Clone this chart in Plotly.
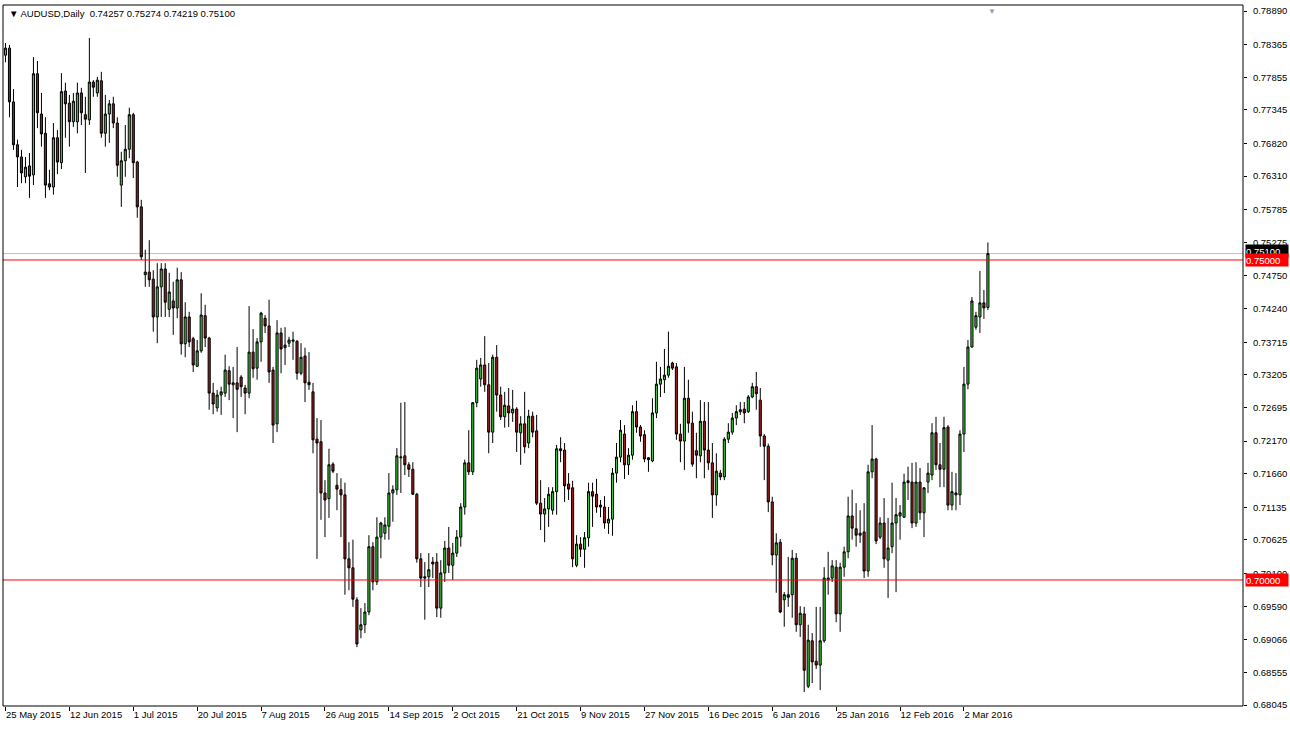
import plotly.graph_objects as go

# ---------------- data (AUDUSD daily candles) ----------------
opens = [
    0.7820, 0.7831, 0.7747, 0.7680, 0.7661, 0.7630, 0.7647, 0.7633, 0.7791, 0.7728,
    0.7698, 0.7619, 0.7614, 0.7691, 0.7652, 0.7764, 0.7745, 0.7716, 0.7716, 0.7761,
    0.7727, 0.7719, 0.7778, 0.7761, 0.7780, 0.7698, 0.7728, 0.7744, 0.7714, 0.7617,
    0.7655, 0.7673, 0.7727, 0.7653, 0.7583, 0.7477, 0.7481, 0.7470, 0.7411, 0.7458,
    0.7486, 0.7423, 0.7436, 0.7425, 0.7469, 0.7369, 0.7411, 0.7377, 0.7334, 0.7358,
    0.7413, 0.7378, 0.7292, 0.7269, 0.7289, 0.7292, 0.7327, 0.7305, 0.7308, 0.7317,
    0.7300, 0.7292, 0.7356, 0.7331, 0.7372, 0.7409, 0.7397, 0.7328, 0.7244, 0.7386,
    0.7363, 0.7370, 0.7373, 0.7373, 0.7323, 0.7350, 0.7309, 0.7294, 0.7220, 0.7216,
    0.7136, 0.7127, 0.7181, 0.7148, 0.7141, 0.7133, 0.7033, 0.7019, 0.6969, 0.6922,
    0.6930, 0.6950, 0.7052, 0.6997, 0.7067, 0.7073, 0.7084, 0.7136, 0.7141, 0.7191,
    0.7194, 0.7180, 0.7173, 0.7134, 0.7033, 0.7005, 0.7005, 0.7028, 0.7028, 0.6956,
    0.7011, 0.7050, 0.7023, 0.7042, 0.7067, 0.7114, 0.7183, 0.7169, 0.7277, 0.7314,
    0.7336, 0.7305, 0.7231, 0.7348, 0.7289, 0.7255, 0.7272, 0.7261, 0.7267, 0.7230,
    0.7244, 0.7214, 0.7256, 0.7233, 0.7120, 0.7103, 0.7111, 0.7109, 0.7138, 0.7205,
    0.7203, 0.7150, 0.7144, 0.7023, 0.7056, 0.7048, 0.7066, 0.7138, 0.7134, 0.7117,
    0.7114, 0.7089, 0.7095, 0.7167, 0.7192, 0.7228, 0.7180, 0.7195, 0.7263, 0.7239,
    0.7227, 0.7191, 0.7186, 0.7261, 0.7306, 0.7313, 0.7320, 0.7339, 0.7333, 0.7228,
    0.7217, 0.7284, 0.7245, 0.7202, 0.7194, 0.7248, 0.7203, 0.7183, 0.7133, 0.7167,
    0.7161, 0.7220, 0.7231, 0.7253, 0.7263, 0.7267, 0.7263, 0.7286, 0.7302, 0.7281,
    0.7225, 0.7209, 0.7122, 0.7039, 0.7059, 0.6969, 0.6977, 0.6977, 0.7034, 0.6930,
    0.6947, 0.6834, 0.6905, 0.6873, 0.6867, 0.6905, 0.7000, 0.7003, 0.7020, 0.6947,
    0.7020, 0.7044, 0.7100, 0.7080, 0.7070, 0.7075, 0.7014, 0.7169, 0.7189, 0.7067,
    0.7089, 0.7031, 0.7052, 0.7089, 0.7100, 0.7098, 0.7155, 0.7153, 0.7089, 0.7153,
    0.7105, 0.7153, 0.7164, 0.7230, 0.7180, 0.7173, 0.7239, 0.7117, 0.7136, 0.7133,
    0.7228, 0.7306, 0.7364, 0.7395, 0.7411, 0.7433, 0.74257,
]
highs = [
    0.7839, 0.7836, 0.7767, 0.7688, 0.7672, 0.7661, 0.7667, 0.7817, 0.7811, 0.7761,
    0.7723, 0.7641, 0.7714, 0.7703, 0.7792, 0.7777, 0.7758, 0.7761, 0.7777, 0.7769,
    0.7755, 0.7847, 0.7781, 0.7786, 0.7794, 0.7758, 0.7750, 0.7755, 0.7723, 0.7669,
    0.7711, 0.7738, 0.7730, 0.7655, 0.7594, 0.7516, 0.7531, 0.7484, 0.7495, 0.7495,
    0.7495, 0.7480, 0.7466, 0.7488, 0.7481, 0.7434, 0.7419, 0.7380, 0.7375, 0.7448,
    0.7430, 0.7380, 0.7308, 0.7297, 0.7302, 0.7352, 0.7334, 0.7333, 0.7364, 0.7320,
    0.7305, 0.7428, 0.7392, 0.7378, 0.7419, 0.7414, 0.7438, 0.7333, 0.7406, 0.7394,
    0.7395, 0.7380, 0.7388, 0.7375, 0.7370, 0.7363, 0.7356, 0.7308, 0.7253, 0.7250,
    0.7156, 0.7205, 0.7184, 0.7167, 0.7159, 0.7152, 0.7059, 0.7063, 0.6973, 0.6956,
    0.6964, 0.7070, 0.7059, 0.7098, 0.7091, 0.7098, 0.7167, 0.7148, 0.7206, 0.7277,
    0.7278, 0.7184, 0.7184, 0.7136, 0.7042, 0.7028, 0.7042, 0.7036, 0.7042, 0.7031,
    0.7061, 0.7083, 0.7058, 0.7078, 0.7120, 0.7188, 0.7234, 0.7278, 0.7344, 0.7347,
    0.7381, 0.7339, 0.7352, 0.7367, 0.7302, 0.7294, 0.7300, 0.7297, 0.7270, 0.7256,
    0.7294, 0.7266, 0.7263, 0.7258, 0.7156, 0.7128, 0.7145, 0.7145, 0.7211, 0.7223,
    0.7214, 0.7167, 0.7155, 0.7070, 0.7067, 0.7075, 0.7152, 0.7152, 0.7158, 0.7125,
    0.7131, 0.7114, 0.7175, 0.7214, 0.7250, 0.7242, 0.7206, 0.7273, 0.7280, 0.7242,
    0.7234, 0.7192, 0.7284, 0.7341, 0.7333, 0.7361, 0.7388, 0.7341, 0.7339, 0.7244,
    0.7333, 0.7313, 0.7263, 0.7230, 0.7281, 0.7278, 0.7278, 0.7214, 0.7198, 0.7172,
    0.7223, 0.7245, 0.7261, 0.7273, 0.7278, 0.7278, 0.7289, 0.7308, 0.7325, 0.7300,
    0.7228, 0.7213, 0.7130, 0.7073, 0.7064, 0.6981, 0.7036, 0.7047, 0.7042, 0.6959,
    0.6958, 0.6930, 0.6917, 0.6958, 0.6958, 0.7020, 0.7044, 0.7031, 0.7031, 0.7027,
    0.7052, 0.7130, 0.7141, 0.7120, 0.7109, 0.7120, 0.7180, 0.7242, 0.7191, 0.7098,
    0.7128, 0.7097, 0.7152, 0.7128, 0.7117, 0.7166, 0.7177, 0.7183, 0.7184, 0.7175,
    0.7145, 0.7183, 0.7245, 0.7255, 0.7214, 0.7255, 0.7242, 0.7169, 0.7167, 0.7234,
    0.7333, 0.7375, 0.7442, 0.7419, 0.7483, 0.7453, 0.75274,
]
lows = [
    0.7809, 0.7723, 0.7672, 0.7614, 0.7620, 0.7620, 0.7597, 0.7617, 0.7706, 0.7677,
    0.7597, 0.7609, 0.7602, 0.7634, 0.7642, 0.7691, 0.7677, 0.7708, 0.7698, 0.7711,
    0.7636, 0.7711, 0.7755, 0.7755, 0.7691, 0.7677, 0.7683, 0.7706, 0.7630, 0.7583,
    0.7630, 0.7659, 0.7628, 0.7566, 0.7500, 0.7458, 0.7458, 0.7388, 0.7370, 0.7411,
    0.7411, 0.7411, 0.7383, 0.7409, 0.7352, 0.7348, 0.7364, 0.7325, 0.7333, 0.7355,
    0.7364, 0.7266, 0.7259, 0.7263, 0.7258, 0.7286, 0.7281, 0.7253, 0.7231, 0.7286,
    0.7259, 0.7284, 0.7316, 0.7313, 0.7341, 0.7386, 0.7308, 0.7214, 0.7231, 0.7323,
    0.7336, 0.7364, 0.7344, 0.7313, 0.7320, 0.7278, 0.7297, 0.7198, 0.7033, 0.7094,
    0.7067, 0.7097, 0.7167, 0.7109, 0.7067, 0.6977, 0.6984, 0.6958, 0.6895, 0.6909,
    0.6917, 0.6945, 0.6984, 0.6992, 0.7034, 0.7063, 0.7063, 0.7091, 0.7133, 0.7136,
    0.7164, 0.7161, 0.7133, 0.7027, 0.6989, 0.6938, 0.6989, 0.7003, 0.6942, 0.6941,
    0.6997, 0.7011, 0.7000, 0.7036, 0.7052, 0.7102, 0.7164, 0.7164, 0.7270, 0.7302,
    0.7294, 0.7198, 0.7214, 0.7263, 0.7250, 0.7238, 0.7239, 0.7247, 0.7200, 0.7180,
    0.7198, 0.7206, 0.7223, 0.7117, 0.7078, 0.7059, 0.7083, 0.7102, 0.7102, 0.7184,
    0.7122, 0.7125, 0.7020, 0.7020, 0.7036, 0.7019, 0.7052, 0.7083, 0.7105, 0.7098,
    0.7080, 0.7072, 0.7069, 0.7152, 0.7184, 0.7158, 0.7164, 0.7188, 0.7230, 0.7216,
    0.7184, 0.7169, 0.7184, 0.7253, 0.7286, 0.7292, 0.7316, 0.7328, 0.7219, 0.7184,
    0.7172, 0.7230, 0.7177, 0.7159, 0.7184, 0.7159, 0.7172, 0.7097, 0.7116, 0.7156,
    0.7156, 0.7214, 0.7227, 0.7242, 0.7258, 0.7245, 0.7261, 0.7284, 0.7266, 0.7208,
    0.7156, 0.7106, 0.7023, 0.6980, 0.6948, 0.6927, 0.6958, 0.6941, 0.6919, 0.6911,
    0.6825, 0.6831, 0.6839, 0.6861, 0.6828, 0.6902, 0.6977, 0.6997, 0.6934, 0.6919,
    0.7005, 0.7034, 0.7063, 0.7052, 0.7058, 0.7003, 0.7005, 0.7159, 0.7056, 0.7064,
    0.7019, 0.6972, 0.7042, 0.6981, 0.7063, 0.7097, 0.7125, 0.7081, 0.7083, 0.7094,
    0.7067, 0.7136, 0.7156, 0.7172, 0.7145, 0.7145, 0.7109, 0.7109, 0.7109, 0.7117,
    0.7200, 0.7298, 0.7363, 0.7391, 0.7386, 0.7408, 0.74219,
]
closes = [
    0.7831, 0.7747, 0.7680, 0.7661, 0.7636, 0.7645, 0.7631, 0.7791, 0.7730, 0.7697,
    0.7617, 0.7614, 0.7691, 0.7653, 0.7763, 0.7744, 0.7716, 0.7748, 0.7761, 0.7730,
    0.7720, 0.7778, 0.7770, 0.7781, 0.7698, 0.7728, 0.7744, 0.7714, 0.7648, 0.7655,
    0.7673, 0.7727, 0.7652, 0.7583, 0.7505, 0.7481, 0.7469, 0.7411, 0.7458, 0.7486,
    0.7434, 0.7450, 0.7425, 0.7469, 0.7369, 0.7411, 0.7372, 0.7336, 0.7358, 0.7414,
    0.7378, 0.7292, 0.7275, 0.7289, 0.7294, 0.7328, 0.7306, 0.7308, 0.7298, 0.7302,
    0.7292, 0.7356, 0.7330, 0.7372, 0.7417, 0.7397, 0.7325, 0.7242, 0.7386, 0.7361,
    0.7367, 0.7375, 0.7375, 0.7323, 0.7348, 0.7308, 0.7305, 0.7219, 0.7214, 0.7136,
    0.7125, 0.7180, 0.7170, 0.7142, 0.7133, 0.7033, 0.7019, 0.6970, 0.6900, 0.6930,
    0.6950, 0.7052, 0.6997, 0.7067, 0.7089, 0.7086, 0.7136, 0.7141, 0.7194, 0.7192,
    0.7180, 0.7173, 0.7134, 0.7033, 0.7003, 0.7003, 0.7016, 0.7025, 0.6956, 0.7011,
    0.7050, 0.7023, 0.7042, 0.7067, 0.7114, 0.7183, 0.7169, 0.7277, 0.7331, 0.7336,
    0.7305, 0.7231, 0.7348, 0.7289, 0.7255, 0.7273, 0.7261, 0.7267, 0.7231, 0.7244,
    0.7208, 0.7256, 0.7231, 0.7120, 0.7103, 0.7111, 0.7134, 0.7138, 0.7205, 0.7202,
    0.7147, 0.7142, 0.7033, 0.7056, 0.7048, 0.7066, 0.7138, 0.7131, 0.7114, 0.7114,
    0.7089, 0.7095, 0.7167, 0.7192, 0.7234, 0.7180, 0.7195, 0.7263, 0.7239, 0.7225,
    0.7189, 0.7188, 0.7261, 0.7306, 0.7314, 0.7320, 0.7334, 0.7331, 0.7228, 0.7217,
    0.7284, 0.7245, 0.7181, 0.7195, 0.7248, 0.7203, 0.7183, 0.7133, 0.7170, 0.7161,
    0.7220, 0.7231, 0.7253, 0.7263, 0.7266, 0.7261, 0.7286, 0.7302, 0.7291, 0.7225,
    0.7209, 0.7122, 0.7039, 0.7058, 0.6950, 0.6977, 0.6973, 0.7034, 0.6930, 0.6948,
    0.6859, 0.6906, 0.6872, 0.6867, 0.6905, 0.7003, 0.7003, 0.7022, 0.6947, 0.7020,
    0.7044, 0.7100, 0.7081, 0.7070, 0.7073, 0.7014, 0.7169, 0.7189, 0.7061, 0.7089,
    0.7033, 0.7050, 0.7089, 0.7102, 0.7105, 0.7153, 0.7152, 0.7089, 0.7153, 0.7105,
    0.7144, 0.7167, 0.7230, 0.7180, 0.7173, 0.7238, 0.7117, 0.7138, 0.7133, 0.7228,
    0.7306, 0.7364, 0.7436, 0.7413, 0.7433, 0.7425, 0.75100,
]
bar_index = list(range(len(opens)))

date_tick_bars = [0, 16, 32, 48, 64, 80, 96, 112, 128, 144, 160, 176, 192, 208, 224, 240]
date_tick_labels = ["25 May 2015", "12 Jun 2015", "1 Jul 2015", "20 Jul 2015", "7 Aug 2015",
                    "26 Aug 2015", "14 Sep 2015", "2 Oct 2015", "21 Oct 2015", "9 Nov 2015",
                    "27 Nov 2015", "16 Dec 2015", "6 Jan 2016", "25 Jan 2016", "12 Feb 2016",
                    "2 Mar 2016"]
price_ticks = [0.78890, 0.78365, 0.77855, 0.77345, 0.76820, 0.76310, 0.75785, 0.75275,
               0.74750, 0.74240, 0.73715, 0.73205, 0.72695, 0.72170, 0.71660, 0.71135,
               0.70625, 0.70100, 0.69590, 0.69066, 0.68555, 0.68045]
level_lines = [0.75000, 0.70000]
bid_price = 0.75100
header_text = "AUDUSD,Daily  0.74257 0.75274 0.74219 0.75100"

FONT = "Liberation Sans"
BULL = "#3CC83C"
BEAR = "#9A1E1E"

fig = go.Figure()
fig.add_trace(go.Candlestick(
    x=bar_index, open=opens, high=highs, low=lows, close=closes,
    increasing=dict(fillcolor=BULL, line=dict(color="black", width=1)),
    decreasing=dict(fillcolor=BEAR, line=dict(color="black", width=1)),
    whiskerwidth=0, showlegend=False, hoverinfo="skip",
))

shapes = []
shapes.append(dict(type="line", xref="paper", x0=0, x1=1, yref="y", y0=bid_price, y1=bid_price,
                   line=dict(color="#C0C0C0", width=1), layer="below"))
for lv in level_lines:
    shapes.append(dict(type="line", xref="paper", x0=0, x1=1, yref="y", y0=lv, y1=lv,
                       line=dict(color="#FF0000", width=1), layer="above"))
shapes.append(dict(type="rect", xref="paper", yref="paper", x0=0, x1=1, y0=0, y1=1,
                   line=dict(color="black", width=1), layer="above"))

annotations = []
annotations.append(dict(xref="paper", yref="y", x=1.0, y=bid_price, xanchor="left", yanchor="middle",
                        text=f"{bid_price:.5f}", showarrow=False, xshift=2, yshift=3,
                        width=42, height=12, align="left",
                        font=dict(family=FONT, size=9.5, color="white"), bgcolor="black",
                        borderpad=0))
for lv in level_lines:
    annotations.append(dict(xref="paper", yref="y", x=1.0, y=lv, xanchor="left", yanchor="middle",
                            text=f"{lv:.5f}", showarrow=False, xshift=2,
                            width=42, height=12, align="left",
                            font=dict(family=FONT, size=9.5, color="white"), bgcolor="#FF0000",
                            borderpad=0))
annotations.append(dict(xref="paper", yref="paper", x=0.003, y=0.998, xanchor="left", yanchor="top",
                        text="\u25BC " + header_text, showarrow=False,
                        font=dict(family=FONT, size=9.5, color="black")))
annotations.append(dict(xref="x", yref="paper", x=247, y=1.0, xanchor="center", yanchor="top",
                        text="\u25BC", showarrow=False,
                        font=dict(family=FONT, size=8, color="#A0A0A0")))

fig.update_layout(
    width=1290, height=731,
    margin=dict(l=3, r=45, t=5, b=25),
    paper_bgcolor="white", plot_bgcolor="white",
    boxgap=0.25,
    shapes=shapes, annotations=annotations,
    xaxis=dict(range=[-0.625, 309.875], rangeslider=dict(visible=False), showgrid=False, zeroline=False,
               tickmode="array", tickvals=date_tick_bars, ticktext=date_tick_labels,
               ticks="outside", ticklen=4, tickcolor="black", ticklabelposition="outside right",
               tickfont=dict(family=FONT, size=9.5, color="black"), showline=False, fixedrange=True),
    yaxis=dict(range=[0.68031, 0.78984], side="right", showgrid=False, zeroline=False,
               tickmode="array", tickvals=price_ticks, ticktext=[f"{v:.5f}" for v in price_ticks],
               ticks="outside", ticklen=3, tickcolor="black", ticklabelstandoff=4,
               tickfont=dict(family=FONT, size=9.5, color="black"), showline=False, fixedrange=True),
)

fig.write_html("out.html", config={"displayModeBar": False},
               post_script="document.body.style.margin='0';document.body.style.overflow='hidden';")
